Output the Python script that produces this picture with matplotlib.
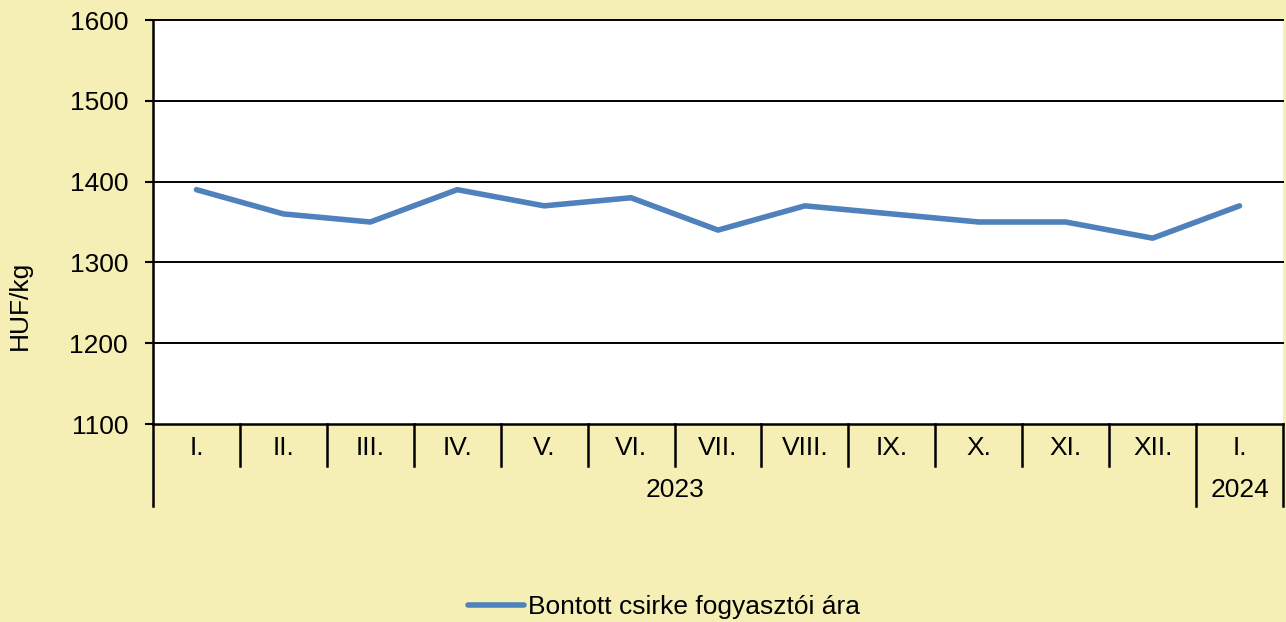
import matplotlib
matplotlib.use("Agg")
import matplotlib.pyplot as plt
import matplotlib.transforms as mtrans

plt.rcParams['font.family'] = ['Liberation Sans', 'DejaVu Sans']

months = ["I.", "II.", "III.", "IV.", "V.", "VI.", "VII.", "VIII.", "IX.", "X.", "XI.", "XII.", "I."]
years = ["2023", "2024"]
year_counts = [12, 1]
prices = [1390, 1360, 1350, 1390, 1370, 1380, 1340, 1370, 1360, 1350, 1350, 1330, 1370]
series_name = "Bontott csirke fogyasztói ára"
y_ticks = [1100, 1200, 1300, 1400, 1500, 1600]

BG = "#F5EFB5"
LINE = "#4F81BD"
W, H = 1286, 622
FS = 19

fig = plt.figure(figsize=(W / 100, H / 100), dpi=100, facecolor=BG)
ax = fig.add_axes([153 / W, (H - 424) / H, (1283 - 153) / W, (424 - 20) / H])
ax.set_facecolor("white")

n = len(months)
xs = [i + 0.5 for i in range(n)]
ln, = ax.plot(xs, prices, color=LINE, lw=4.0, solid_capstyle='round', solid_joinstyle='round', zorder=3, label=series_name)

ax.set_xlim(0, n)
ax.set_ylim(1100, 1600)
ax.set_yticks(y_ticks)
ax.set_yticklabels([str(v) for v in y_ticks], fontsize=FS)
ax.tick_params(axis='y', length=6, width=1.5, pad=12)
ax.set_xticks([])
for v in y_ticks[1:]:
    ax.axhline(v, color='black', lw=1.4, zorder=1, clip_on=False)

for s in ['top', 'right']:
    ax.spines[s].set_visible(False)
ax.spines['left'].set_linewidth(1.8)
ax.spines['bottom'].set_linewidth(1.8)

trans = mtrans.blended_transform_factory(ax.transData, ax.transAxes)
h_ax = 404.0
row1_y = (424 - 448) / h_ax
row1_end = (424 - 466) / h_ax
row2_y = (424 - 490) / h_ax
row2_end = (424 - 506) / h_ax

for i, m in enumerate(months):
    ax.text(i + 0.5, row1_y, m, transform=trans, ha='center', va='center', fontsize=FS)

# separators
year_bounds = [0]
for c in year_counts:
    year_bounds.append(year_bounds[-1] + c)
for b in range(n + 1):
    end = row2_end if b in year_bounds else row1_end
    ax.plot([b, b], [0, end], transform=trans, color='black', lw=1.8, clip_on=False)

for k, yname in enumerate(years):
    mid = (year_bounds[k] + year_bounds[k + 1]) / 2
    ax.text(mid, row2_y, yname, transform=trans, ha='center', va='center', fontsize=FS)

fig.text(20 / W, 1 - 305 / H, "HUF/kg", rotation=90, ha='center', va='center', fontsize=FS)

fig.legend(handles=[ln], loc='center', bbox_to_anchor=(664 / W, 1 - 607 / H), frameon=False,
           fontsize=FS, handlelength=2.1, handletextpad=0.15, borderpad=0)

fig.savefig("out.png", dpi=100, facecolor=BG)
